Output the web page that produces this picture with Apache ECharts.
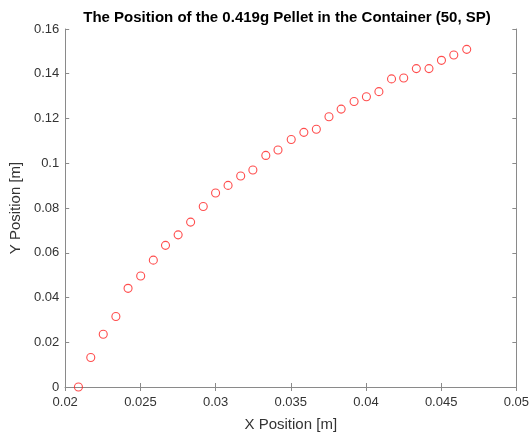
<!DOCTYPE html>
<html>
<head>
<meta charset="utf-8">
<script src="https://cdn.jsdelivr.net/npm/echarts@6/dist/echarts.min.js"></script>
<style>html,body{margin:0;padding:0;background:#fff;}#c{width:532px;height:437px;}</style>
</head>
<body>
<div id="c"></div>
<script>
const xValues = [0.02088, 0.0217, 0.02253, 0.02337, 0.02418, 0.02502, 0.02586, 0.02667, 0.02751, 0.02834, 0.02918,
  0.0300, 0.03083, 0.03167, 0.03248, 0.03334, 0.03415, 0.03503, 0.03587, 0.0367, 0.03754, 0.03835, 0.03921,
  0.04003, 0.04086, 0.0417, 0.04251, 0.04335, 0.04419, 0.04502, 0.04584, 0.0467];
const yValues = [0.0, 0.0132, 0.0236, 0.0315, 0.0441, 0.0496, 0.0567, 0.0633, 0.0680, 0.0737, 0.0807,
  0.0867, 0.0901, 0.0943, 0.0970, 0.1035, 0.1059, 0.1106, 0.1138, 0.1152, 0.1208, 0.1242, 0.1276,
  0.1297, 0.1320, 0.1377, 0.1381, 0.1423, 0.1423, 0.1460, 0.1484, 0.1509];
const xTicks = [0.02, 0.025, 0.03, 0.035, 0.04, 0.045, 0.05];
const yTicks = [0, 0.02, 0.04, 0.06, 0.08, 0.1, 0.12, 0.14, 0.16];
const titleText = 'The Position of the 0.419g Pellet in the Container (50, SP)';
const xName = 'X Position [m]';
const yName = 'Y Position [m]';

const data = xValues.map((x, i) => [x, yValues[i]]);
const fmt = v => String(+v.toFixed(4));
const lineColor = '#8a8a8a';
const textColor = '#333333';
const axisLine = {show: true, lineStyle: {color: lineColor, width: 1}};
const tick = {show: true, inside: true, length: 4, lineStyle: {color: lineColor}};
const chart = echarts.init(document.getElementById('c'));
chart.setOption({
  animation: false,
  backgroundColor: '#fff',
  title: {text: titleText, left: 282, top: 5, textAlign: 'center',
    textStyle: {fontFamily: 'Liberation Sans', fontSize: 15, fontWeight: 'bold', color: '#000'}},
  grid: {left: 63, right: 14, top: 29, bottom: 49},
  xAxis: [{
    type: 'value', min: xTicks[0], max: xTicks[xTicks.length - 1], interval: 0.005,
    name: xName, nameLocation: 'middle', nameGap: 30,
    nameTextStyle: {fontFamily: 'Liberation Sans', fontSize: 15, color: textColor},
    axisLine: axisLine, axisTick: tick,
    axisLabel: {fontFamily: 'Liberation Sans', fontSize: 13, color: textColor, margin: 9, formatter: fmt},
    splitLine: {show: false}
  }, {
    type: 'value', position: 'top', min: xTicks[0], max: xTicks[xTicks.length - 1], interval: 0.005,
    axisLine: axisLine, axisTick: tick,
    axisLabel: {show: false}, splitLine: {show: false}
  }],
  yAxis: [{
    type: 'value', min: yTicks[0], max: yTicks[yTicks.length - 1], interval: 0.02,
    name: yName, nameLocation: 'middle', nameGap: 38, nameRotate: 90,
    nameTextStyle: {fontFamily: 'Liberation Sans', fontSize: 15, color: textColor},
    axisLine: axisLine, axisTick: tick,
    axisLabel: {fontFamily: 'Liberation Sans', fontSize: 13, color: textColor, margin: 6, padding: [3, 0, 0, 0], formatter: fmt},
    splitLine: {show: false}
  }, {
    type: 'value', position: 'right', min: yTicks[0], max: yTicks[yTicks.length - 1], interval: 0.02,
    axisLine: axisLine, axisTick: tick,
    axisLabel: {show: false}, splitLine: {show: false}
  }],
  series: [{
    type: 'scatter', data: data, symbol: 'circle', symbolSize: 8,
    itemStyle: {color: 'rgba(0,0,0,0)', borderColor: '#ff2020', borderWidth: 1.1}
  }]
});
</script>
</body>
</html>
